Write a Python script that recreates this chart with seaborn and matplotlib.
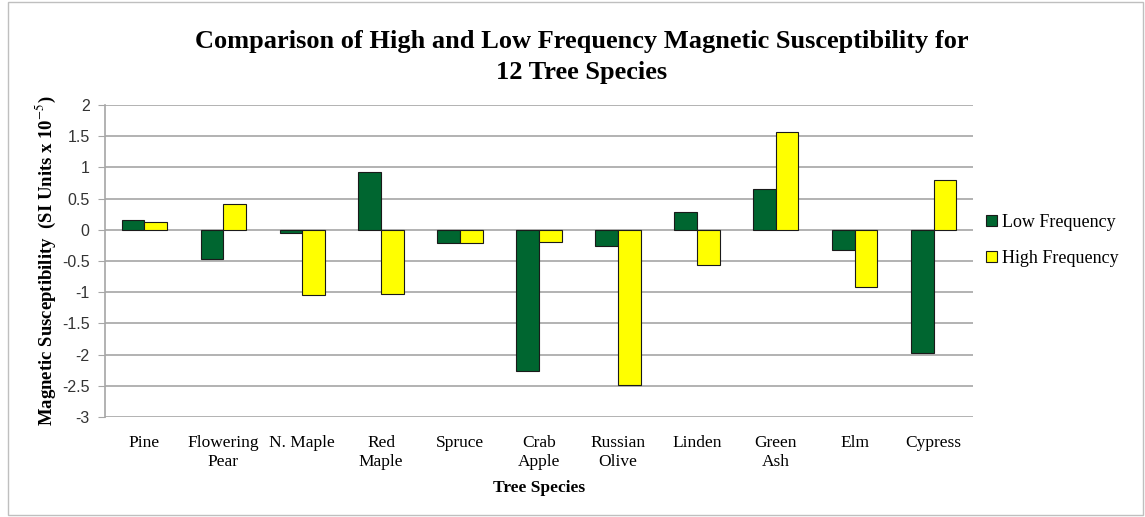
import pandas as pd
import matplotlib.pyplot as plt
import seaborn as sns
from matplotlib.patches import Rectangle

species = ["Pine", "Flowering\nPear", "N. Maple", "Red\nMaple", "Spruce", "Crab\nApple",
           "Russian\nOlive", "Linden", "Green\nAsh", "Elm", "Cypress"]
low_freq = [0.16, -0.46, -0.05, 0.93, -0.21, -2.26, -0.26, 0.29, 0.66, -0.33, -1.97]
high_freq = [0.12, 0.42, -1.05, -1.03, -0.21, -0.20, -2.48, -0.56, 1.57, -0.92, 0.80]
series = ["Low Frequency", "High Frequency"]
yticks = [2, 1.5, 1, 0.5, 0, -0.5, -1, -1.5, -2, -2.5, -3]

df = pd.DataFrame({
    "species": species * 2,
    "value": low_freq + high_freq,
    "series": [series[0]] * len(species) + [series[1]] * len(species),
})

sns.set_style("white")
plt.rcParams["font.family"] = ["Liberation Serif", "DejaVu Serif"]
plt.rcParams["mathtext.fontset"] = "stix"
plt.rcParams["text.color"] = "black"
plt.rcParams["axes.labelcolor"] = "black"

fig = plt.figure(figsize=(11.45, 5.17), dpi=100)
ax = fig.add_axes([105 / 1145, 1 - 417 / 517, (973 - 105) / 1145, (417 - 105) / 517])

sns.barplot(data=df, x="species", y="value", hue="series", palette=["#006630", "#ffff00"],
            saturation=1, width=0.575, edgecolor="#1a1a1a", linewidth=0.8, ax=ax, zorder=3)

ax.set_ylim(-3, 2)
ax.set_yticks(yticks)
ax.set_yticklabels([f"{t:g}" for t in yticks], family="Liberation Sans", fontsize=11.5, color="#333333")
ax.yaxis.grid(True, color="#a6a6a6", linewidth=1.2, zorder=0)
ax.tick_params(axis="y", length=5, color="#a6a6a6", left=True, pad=6)
ax.tick_params(axis="x", length=0, pad=13, labelsize=12.5, labelcolor="black")
for lbl in ax.get_xticklabels():
    lbl.set_multialignment("center")
    lbl.set_linespacing(1.25)
for s in ["top", "right", "bottom"]:
    ax.spines[s].set_visible(False)
ax.spines["left"].set_color("#a6a6a6")
ax.spines["left"].set_linewidth(1.2)

ax.set_xlabel("Tree Species", fontsize=12.5, fontweight="bold", labelpad=7)
ax.set_ylabel(r"Magnetic Susceptibility  (SI Units x 10$^{-5}$)", fontsize=13.5,
              fontweight="bold", labelpad=3)

fig.suptitle("Comparison of High and Low Frequency Magnetic Susceptibility for\n12 Tree Species",
             x=0.508, y=0.942, va="top", fontsize=19, fontweight="bold", linespacing=1.45)

ax.legend(loc="center left", bbox_to_anchor=(0.847, 0.535), bbox_transform=fig.transFigure,
          frameon=False, fontsize=13, handlelength=0.6, handleheight=0.6, handletextpad=0.3,
          labelspacing=1.05)

fig.patches.append(Rectangle((8 / 1145, 2 / 517), 1 - 10 / 1145, 1 - 4 / 517, transform=fig.transFigure,
                             fill=False, edgecolor="#bfbfbf", linewidth=1))

fig.savefig("out.png", dpi=100)
